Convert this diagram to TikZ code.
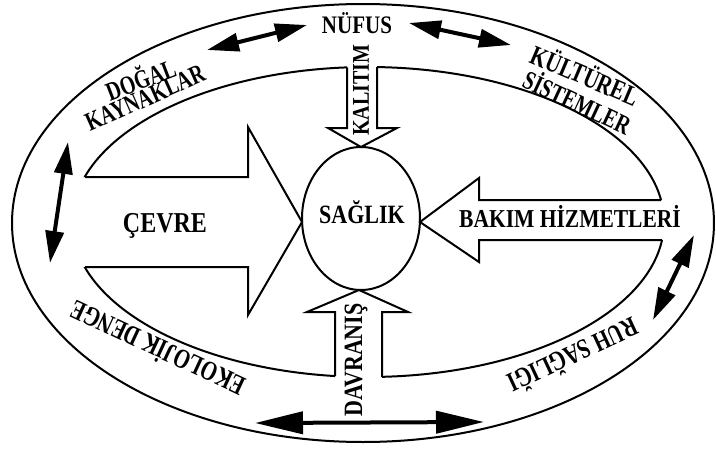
\documentclass[tikz,border=0pt]{standalone}
\usepackage{fontspec}
\setmainfont{Liberation Serif}
\usetikzlibrary{arrows.meta}
\newcommand{\tallTxt}[1]{\scalebox{1}[1.2]{#1}}
\newcommand{\ringTxt}[1]{\scalebox{0.9}[1.2]{#1}}
\begin{document}
\begin{tikzpicture}[x=1pt,y=-1pt,
  ln/.style={line width=2pt, line join=miter},
  dbl/.style={line width=4pt, {Triangle[length=32pt,width=18pt]}-{Triangle[length=32pt,width=18pt]}},
  dblong/.style={line width=4pt, {Triangle[length=48pt,width=22pt]}-{Triangle[length=48pt,width=22pt]}},
  txt/.style={inner sep=0pt, font=\bfseries\fontsize{#1}{#1}\selectfont}]
\useasboundingbox (0,0) rectangle (716,450);
\fill[white] (0,0) rectangle (716,450);
% outer ellipse
\draw[ln] (363,223) ellipse [x radius=351pt, y radius=219pt];
% inner ellipse, broken where the block arrows enter
\begin{scope}[even odd rule]
\clip (0,0) rectangle (716,450) (40,177) rectangle (110,267)
  (630,200) rectangle (700,240) (347,40) rectangle (377,95) (335,350) rectangle (382,400);
\draw[ln] (368,222) ellipse [x radius=296pt, y radius=155pt];
\end{scope}
% block arrows
\draw[ln] (85,177) -- (248,177) -- (248,127) -- (302,222) -- (248,315) -- (248,267) -- (85,267);
\draw[ln] (661,200) -- (479,200) -- (479,178) -- (420,222) -- (479,262) -- (479,240) -- (662,240);
\draw[ln] (347,67.4) -- (347,128) -- (328,128) -- (361,147) -- (397,128) -- (377,128) -- (377,67);
\draw[ln] (335,376) -- (335,312) -- (307,312) -- (359,290) -- (408,312) -- (382,312) -- (382,377);
% central ellipse
\draw[ln] (361,218.5) ellipse [x radius=59pt, y radius=71.5pt];
% texts
\node[txt=21, anchor=base] (nufus) at (357,33) {\tallTxt{NÜFUS}};
\node[txt=22, anchor=base] (saglik) at (362,223) {\tallTxt{SAĞLIK}};
\node[txt=24, anchor=base] (cevre) at (165,232) {\tallTxt{ÇEVRE}};
\node[txt=21.5, anchor=base] (bakim) at (570,227) {\tallTxt{BAKIM HİZMETLERİ}};
\node[txt=20, rotate=90] (kalitim) at (361,90) {\tallTxt{KALITIM}};
\node[txt=22, rotate=90] (davranis) at (356,360) {\tallTxt{DAVRANIŞ}};
\node[txt=22, rotate=21] (dogal) at (140,78) {\ringTxt{DOĞAL}};
\node[txt=22, rotate=24] (kaynak) at (145,98) {\ringTxt{KAYNAKLAR}};
\node[txt=23, rotate=-23] (kultur) at (586,74) {\ringTxt{KÜLTÜREL}};
\node[txt=22, rotate=-25] (sistem) at (578,101) {\ringTxt{SİSTEMLER}};
\node[txt=23, rotate=155] (ekoloji) at (157,350) {\ringTxt{EKOLOJİK DENGE}};
\node[txt=23, rotate=205] (ruh) at (574,357) {\ringTxt{RUH SAĞLIĞI}};
% double arrows
\coordinate (a1) at (207,50); \coordinate (b1) at (307,25);
\coordinate (a2) at (409,23); \coordinate (b2) at (511,45);
\coordinate (a3) at (68,142); \coordinate (b3) at (50,263);
\coordinate (a4) at (694,235); \coordinate (b4) at (653,320);
\coordinate (a5) at (255,423); \coordinate (b5) at (484,422);
\draw[dbl] (a1) -- (b1);
\draw[dbl] (a2) -- (b2);
\draw[dbl] (a3) -- (b3);
\draw[dbl] (a4) -- (b4);
\draw[dblong] (a5) -- (b5);
\end{tikzpicture}
\end{document}
